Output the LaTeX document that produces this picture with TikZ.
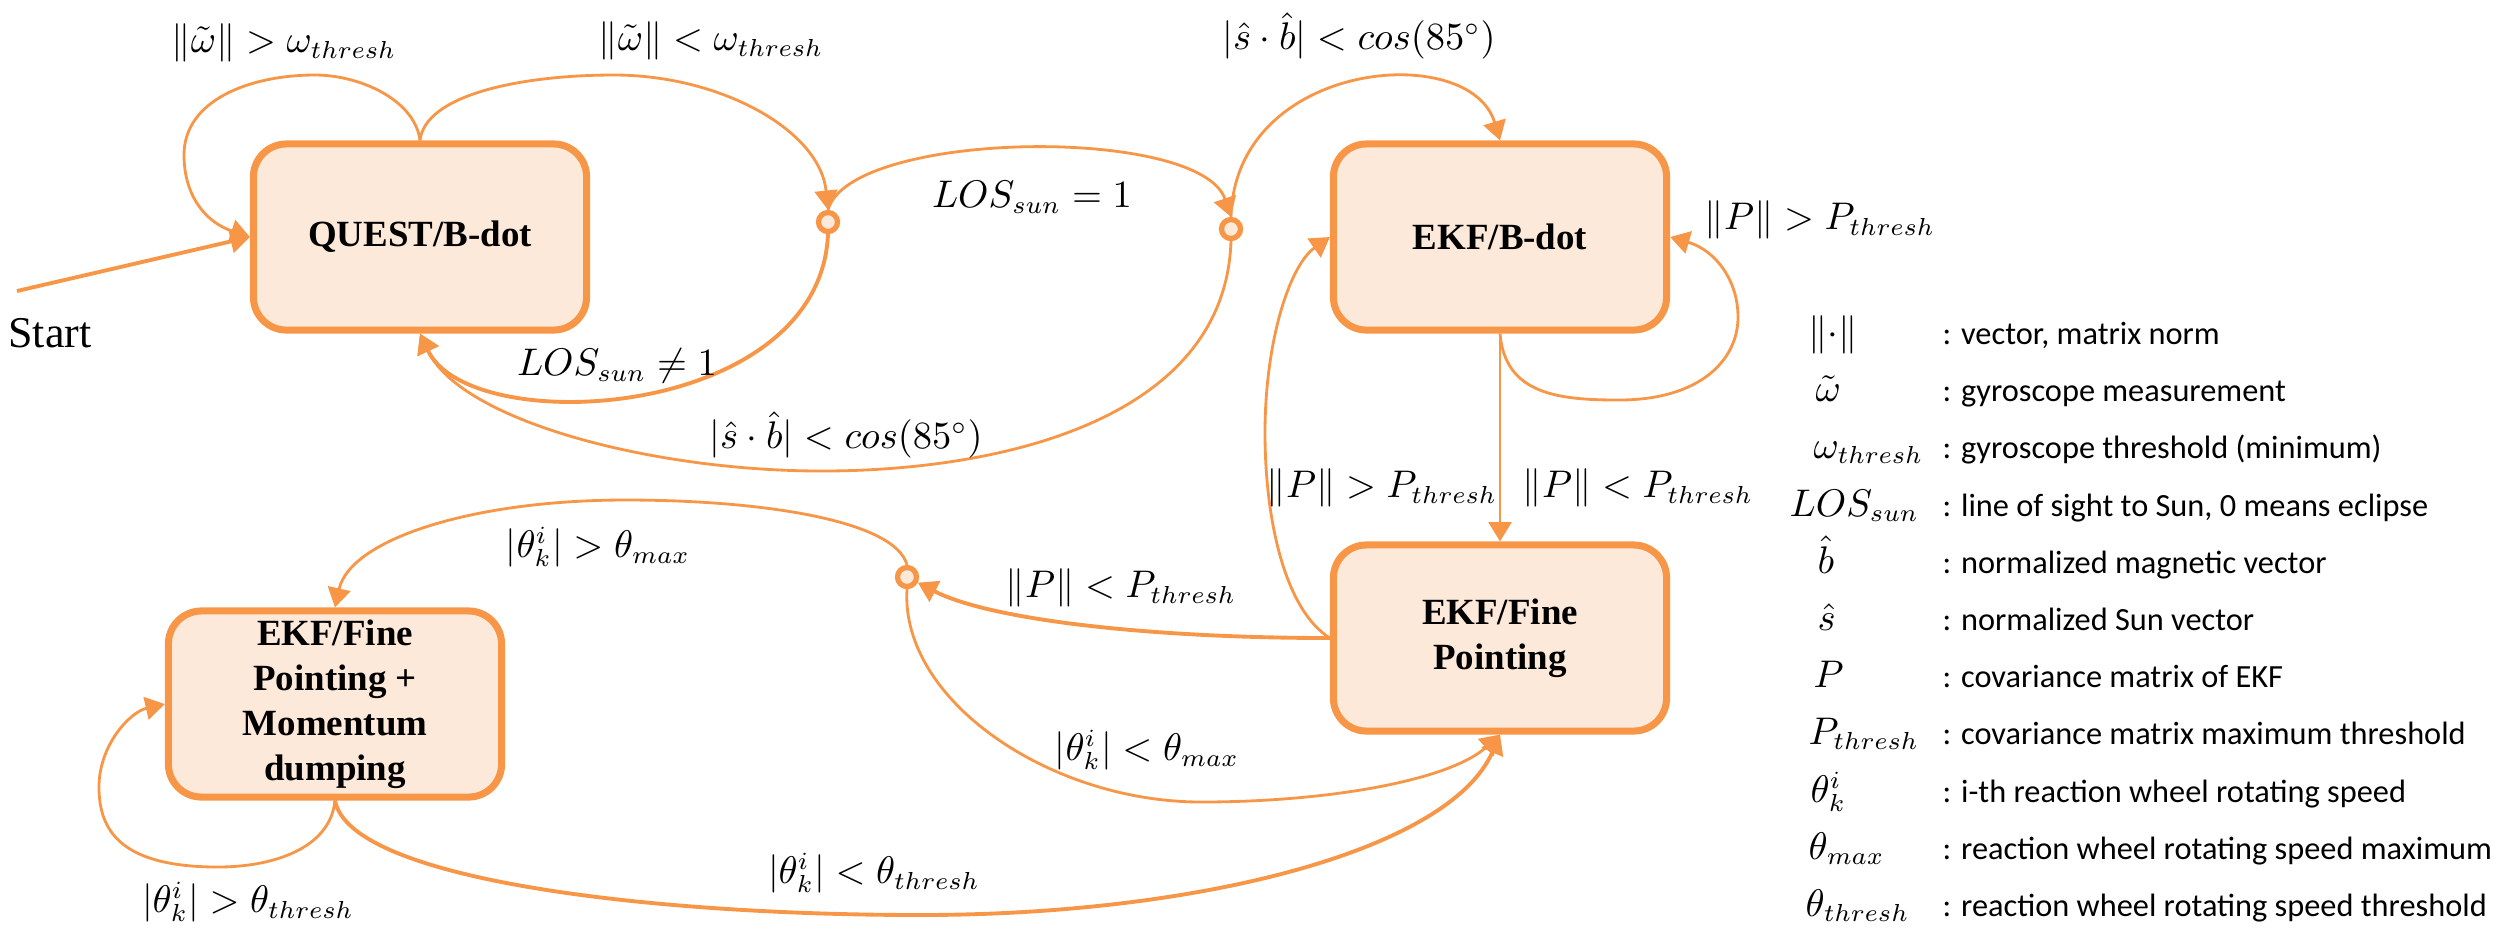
\documentclass[tikz,border=0pt]{standalone}
\usepackage[no-math]{fontspec}
\setmainfont{Liberation Serif}
\newfontfamily\legendfont{Carlito}
\usetikzlibrary{arrows.meta}
\definecolor{accent}{HTML}{F79646}
\definecolor{peach}{HTML}{FDE9D9}

\begin{document}
\begin{tikzpicture}[x=0.01cm, y=-0.01cm,
  state/.style={draw=accent, fill=peach, line width=2pt, rounded corners=0.33cm,
    minimum width=3.33cm, minimum height=1.86cm, align=center, inner sep=0pt,
    font=\fontsize{10.5}{12.8}\selectfont\bfseries},
  junction/.style={circle, draw=accent, fill=peach, line width=1.5pt,
    minimum size=0.19cm, inner sep=0pt},
  link/.style={draw=accent, line width=0.8pt, -{Triangle[length=5.5pt,width=6.5pt]}},
  boldlink/.style={link, line width=1.1pt},
  cond/.style={font=\fontsize{10.7}{12}\selectfont, inner sep=0pt},
  sym/.style={font=\fontsize{10.7}{12}\selectfont, inner sep=0pt, anchor=base west},
  desc/.style={font=\legendfont\fontsize{9.2}{11}\selectfont, inner sep=0pt, anchor=base west}
]
\useasboundingbox (0,0) rectangle (2506,935);

% states
\node[state] (q) at (420,237) {QUEST/B-dot};
\node[state] (b) at (1500,237) {EKF/B-dot};
\node[state] (f) at (1500,638) {EKF/Fine\\Pointing};
\node[state] (m) at (335,704) {EKF/Fine\\Pointing +\\Momentum\\dumping};

% branch points
\node[junction] (c1) at (828,222) {};
\node[junction] (c2) at (1231,229) {};
\node[junction] (c3) at (907,577) {};

% start
\coordinate (s0) at (17,291);
\node[font=\fontsize{12.5}{14}\selectfont, inner sep=0pt] (start) at (50,333) {Start};
\draw[boldlink] (s0) -- (q.west);

% QUEST/B-dot transitions
\draw[link] (q.north) .. controls (415,100) and (360,75) .. (315,75)
  .. controls (250,75) and (184,100) .. (184,155)
  .. controls (184,195) and (205,222) .. (q.west);
\draw[link] (q.north) .. controls (425,95) and (520,75) .. (614,75)
  .. controls (720,75) and (820,130) .. (c1.north);
\draw[link] (c1.north) .. controls (850,130) and (1200,125) .. (c2.north);
\draw[boldlink] (c1.south) .. controls (820,420) and (470,440) .. (q.south);
\draw[link] (c2.south) .. controls (1225,420) and (1000,471) .. (822,471)
  .. controls (650,471) and (460,420) .. (q.south);
\draw[link] (c2.north) .. controls (1235,60) and (1470,40) .. (b.north);

% EKF/B-dot transitions
\draw[link] (b.south) .. controls (1505,395) and (1560,400) .. (1619,400)
  .. controls (1700,400) and (1738,360) .. (1738,317)
  .. controls (1738,280) and (1715,250) .. (b.east);
\draw[link] (b.south) -- (f.north);

% EKF/Fine Pointing transitions
\draw[link] (f.west) .. controls (1285,610) and (1265,520) .. (1265,433)
  .. controls (1265,340) and (1290,265) .. (b.west);
\draw[boldlink] (f.west) .. controls (1150,638) and (990,620) .. (c3);
\draw[link] (c3.north) .. controls (895,520) and (760,500) .. (626,500)
  .. controls (470,500) and (350,540) .. (m.north);
\draw[link] (c3.south) .. controls (900,700) and (1050,802) .. (1201,802)
  .. controls (1330,802) and (1450,780) .. (f.south);

% momentum dumping transitions
\draw[boldlink] (m.south) .. controls (350,880) and (650,915) .. (920,915)
  .. controls (1200,915) and (1450,850) .. (f.south);
\draw[link] (m.south) .. controls (330,850) and (270,867) .. (218,867)
  .. controls (120,867) and (99,830) .. (99,787)
  .. controls (99,745) and (130,712) .. (m.west);

% transition conditions
\node[cond] (t1) at (284,43) {$\|\tilde{\omega}\| > \omega_{thresh}$};
\node[cond] (t2) at (711,41) {$\|\tilde{\omega}\| < \omega_{thresh}$};
\node[cond] (t3) at (1359,36) {$\bigl|\hat{s}\cdot\hat{b}\bigr| < cos\bigl(85^{\circ}\bigr)$};
\node[cond] (t4) at (1032,197) {$LOS_{sun} = 1$};
\node[cond] (t5) at (617,366) {$LOS_{sun} \neq 1$};
\node[cond] (t6) at (846,435) {$\bigl|\hat{s}\cdot\hat{b}\bigr| < cos\bigl(85^{\circ}\bigr)$};
\node[cond] (t7) at (1820,220) {$\|P\| > P_{thresh}$};
\node[cond] (t8) at (1382,488) {$\|P\| > P_{thresh}$};
\node[cond] (t9) at (1638,488) {$\|P\| < P_{thresh}$};
\node[cond] (t10) at (1121,588) {$\|P\| < P_{thresh}$};
\node[cond] (t11) at (598,547) {$\bigl|\theta_k^i\bigr| > \theta_{max}$};
\node[cond] (t12) at (1147,750) {$\bigl|\theta_k^i\bigr| < \theta_{max}$};
\node[cond] (t13) at (874,873) {$\bigl|\theta_k^i\bigr| < \theta_{thresh}$};
\node[cond] (t14) at (248,902) {$\bigl|\theta_k^i\bigr| > \theta_{thresh}$};

% legend
\node[sym] (k1) at (1808,344) {$\|{\cdot}\|$};
\node[sym] (k2) at (1815,401) {$\tilde{\omega}$};
\node[sym] (k3) at (1813,458) {$\omega_{thresh}$};
\node[sym] (k4) at (1789,516) {$LOS_{sun}$};
\node[sym] (k5) at (1817,573) {$\hat{b}$};
\node[sym] (k6) at (1817,630) {$\hat{s}$};
\node[sym] (k7) at (1813,687) {$P$};
\node[sym] (k8) at (1808,744) {$P_{thresh}$};
\node[sym] (k9) at (1810,802) {$\theta_k^i$};
\node[sym] (k10) at (1808,859) {$\theta_{max}$};
\node[sym] (k11) at (1805,916) {$\theta_{thresh}$};

\node[desc] (d1) at (1942,344) {: vector, matrix norm};
\node[desc] (d2) at (1942,401) {: gyroscope measurement};
\node[desc] (d3) at (1942,458) {: gyroscope threshold (minimum)};
\node[desc] (d4) at (1942,516) {: line of sight to Sun, 0 means eclipse};
\node[desc] (d5) at (1942,573) {: normalized magnetic vector};
\node[desc] (d6) at (1942,630) {: normalized Sun vector};
\node[desc] (d7) at (1942,687) {: covariance matrix of EKF};
\node[desc] (d8) at (1942,744) {: covariance matrix maximum threshold};
\node[desc] (d9) at (1942,802) {: i-th reaction wheel rotating speed};
\node[desc] (d10) at (1942,859) {: reaction wheel rotating speed maximum};
\node[desc] (d11) at (1942,916) {: reaction wheel rotating speed threshold};
\end{tikzpicture}
\end{document}
